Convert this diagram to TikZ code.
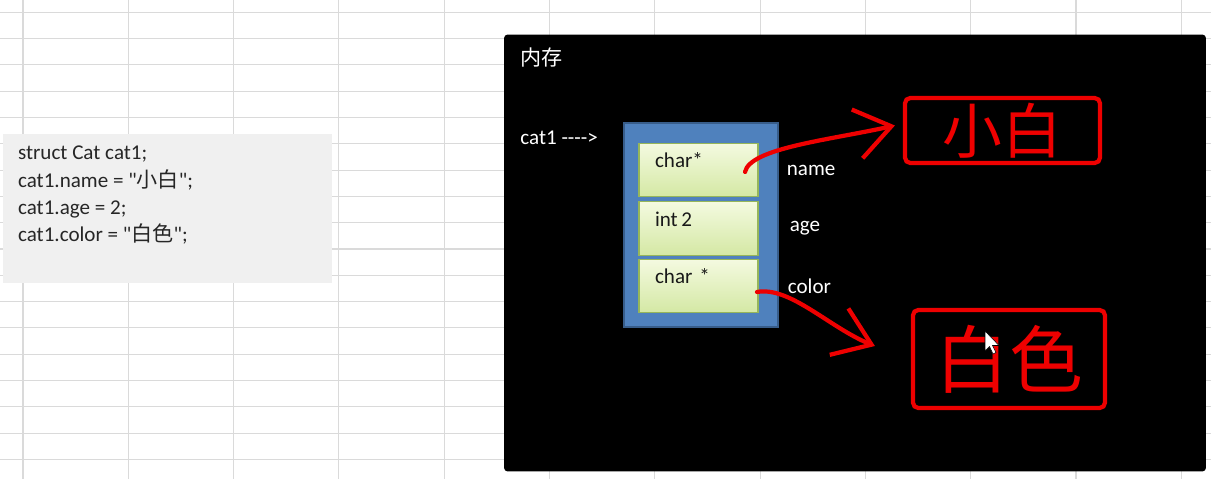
\documentclass[tikz,border=0pt]{standalone}
\usepackage{fontspec}
\setmainfont{Carlito}[Ligatures=TeXOff]
\newfontfamily\cjk{Noto Sans CJK SC}
\usepackage{xcolor}
\usepackage{tikz}
\usetikzlibrary{arrows.meta,positioning}
\definecolor{gridGray}{RGB}{218,218,218}
\definecolor{codeGray}{RGB}{240,240,240}
\definecolor{codeText}{RGB}{38,38,38}
\definecolor{memBlue}{RGB}{79,129,189}
\definecolor{memBlueDark}{RGB}{56,93,138}
\definecolor{cellTop}{RGB}{244,250,224}
\definecolor{cellBottom}{RGB}{212,232,164}
\definecolor{cellEdge}{RGB}{150,182,90}
\definecolor{penRed}{RGB}{238,0,0}
\tikzset{
  gridline/.style={gridGray, line width=0.6pt},
  codeline/.style={anchor=base west, inner sep=0pt, text=codeText, font=\fontsize{12}{14}\selectfont},
  memtext/.style={anchor=west, inner sep=0pt, text=white, font=\fontsize{12}{14}\selectfont},
  cell/.style={draw=cellEdge, line width=0.6pt, top color=cellTop, bottom color=cellBottom,
    text width=1.74cm, inner xsep=0.32cm, inner ysep=0pt, align=left,
    text height=0.32cm, text depth=0.40cm, minimum height=1.07cm,
    text=black!90, font=\fontsize{12}{14}\selectfont},
  penbox/.style={draw=penRed, line width=2.4pt, rounded corners=3pt, text=penRed, inner sep=0pt},
  pen/.style={penRed, line width=2.4pt, line cap=round, line join=round}
}

\begin{document}
\begin{tikzpicture}[x=0.02cm, y=-0.02cm]
\useasboundingbox[fill=white] (0,0) rectangle (1211,479);
% spreadsheet grid
\foreach \gx in {0,...,11}
  \draw[gridline] ({23+105.3*\gx},0) -- ({23+105.3*\gx},479);
\foreach \gy in {0,...,17}
  \draw[gridline] (0,{12.3+26.3*\gy}) -- (1211,{12.3+26.3*\gy});

% code on the left
\node[fill=codeGray, inner sep=0pt, minimum width=6.58cm, minimum height=2.98cm] (codebox) at (167.5,208.5) {};
\node[codeline] (line1) at ([shift={(15,26)}]codebox.north west) {struct Cat cat1;};
\node[codeline] (line2) at ([shift={(15,53.5)}]codebox.north west) {cat1.name = "{\cjk 小白}";};
\node[codeline] (line3) at ([shift={(15,81)}]codebox.north west) {cat1.age = 2;};
\node[codeline] (line4) at ([shift={(15,108)}]codebox.north west) {cat1.color = "{\cjk 白色}";};

% memory panel
\node[fill=black, rounded corners=2pt, inner sep=0pt, minimum width=14.04cm, minimum height=8.74cm] (memory) at (855,253) {};
\node[memtext] (memtitle) at (520,58) {\cjk 内存};
\node[memtext] (catname) at (520,138) {cat1 ---->};

\node[fill=memBlue, draw=memBlueDark, line width=1pt, inner sep=0pt, minimum width=3.08cm, minimum height=4.08cm] (catbox) at (701,225) {};
\node[cell] (cell1) at (698.5,170) {char*};
\node[cell] (cell2) at (698.5,228.5) {int\,2};
\node[cell] (cell3) at (698.5,286) {char *};
\node[memtext, right=0.56cm of cell1] (namelbl) {name};
\node[memtext, right=0.62cm of cell2] (agelbl) {age};
\node[memtext, right=0.58cm of cell3] (colorlbl) {color};

% hand drawn values
\node[penbox, minimum width=3.9cm, minimum height=1.3cm, font=\cjk\fontsize{34}{34}\selectfont] (xiaobai) at (1002.5,130.5) {小白};
\node[penbox, minimum width=3.84cm, minimum height=1.96cm, font=\cjk\fontsize{42}{42}\selectfont] (baise) at (1009,359) {白色};
\coordinate (namePtr) at (745,172);
\coordinate (colorPtr) at (757,292);
\draw[pen, -{Straight Barb[length=0.7cm, width=1.0cm]}] (namePtr) .. controls (750,148) and (830,140) .. ([shift={(-8,-5)}]xiaobai.west);
\draw[pen, -{Straight Barb[length=0.7cm, width=1.0cm]}] (colorPtr) .. controls (790,286) and (830,328) .. ([shift={(-36,-13)}]baise.west);

% mouse pointer
\draw[fill=white, draw=black, line width=0.3pt] (985,331) -- ++(0,20) -- ++(4.5,-4.5) -- ++(3.5,7.5) -- ++(3,-1.5) -- ++(-3.5,-7) -- ++(6.5,0) -- cycle;
\end{tikzpicture}
\end{document}
